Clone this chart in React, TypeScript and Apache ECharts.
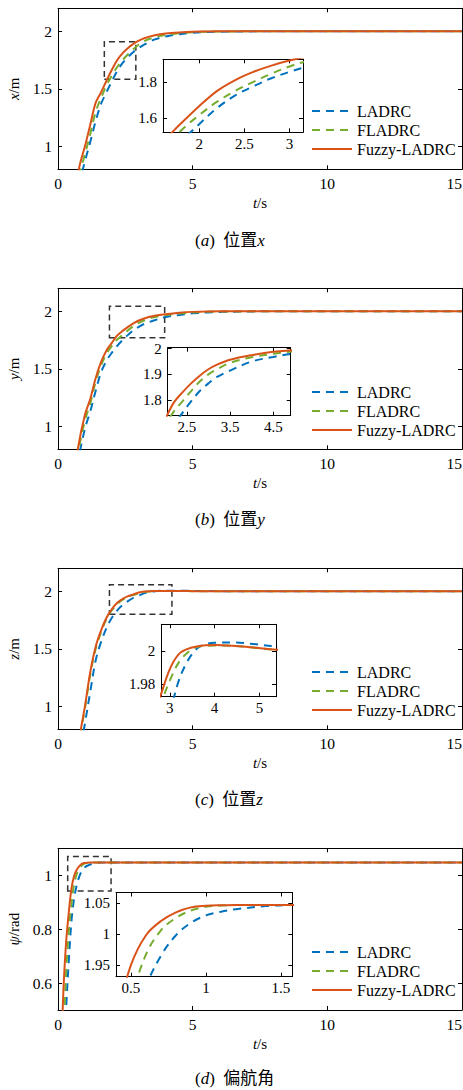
import React, { useEffect, useRef } from "react";
import * as echarts from "echarts";

const SERIF = "Liberation Serif, Times New Roman, serif";
const SERIF_CJK = "Liberation Serif, Noto Sans CJK SC, serif";

const SERIES_NAMES = ["LADRC", "FLADRC", "Fuzzy-LADRC"];
const SERIES_COLORS = ["#0072BD", "#77AC30", "#D95319"];

const MAIN_X_TICKS = [0, 5, 10, 15];

// ---- (a) position x ----
const T_X = [0.5, 0.8, 1.0, 1.2, 1.4, 1.6, 1.8, 2.0, 2.2, 2.4, 2.6, 2.8, 3.0, 3.2, 3.6, 4.0, 4.5, 5.0, 6.0, 8.0, 15];
const X_LADRC = [0.3, 0.68, 0.87, 1.04, 1.22, 1.37, 1.47, 1.565, 1.655, 1.725, 1.775, 1.82, 1.855, 1.885, 1.93, 1.955, 1.975, 1.987, 1.996, 2.0, 2.0];
const X_FLADRC = [0.38, 0.76, 0.93, 1.11, 1.3, 1.42, 1.53, 1.615, 1.69, 1.75, 1.8, 1.845, 1.885, 1.915, 1.948, 1.968, 1.983, 1.992, 1.998, 2.0, 2.0];
const X_FUZZY = [0.45, 0.83, 1.0, 1.19, 1.38, 1.47, 1.57, 1.665, 1.75, 1.81, 1.855, 1.89, 1.918, 1.94, 1.965, 1.98, 1.99, 1.996, 2.0, 2.0, 2.0];

// ---- (b) position y ----
const T_Y = [0.5, 0.75, 1.0, 1.2, 1.4, 1.6, 1.8, 2.0, 2.2, 2.4, 2.6, 2.8, 3.0, 3.2, 3.5, 4.0, 4.5, 5.0, 6.0, 8.0, 15];
const Y_LADRC = [0.3, 0.7, 0.98, 1.13, 1.31, 1.47, 1.57, 1.64, 1.7, 1.75, 1.795, 1.835, 1.865, 1.89, 1.915, 1.95, 1.968, 1.982, 1.994, 2.0, 2.0];
const Y_FLADRC = [0.35, 0.77, 1.05, 1.2, 1.39, 1.53, 1.63, 1.7, 1.755, 1.795, 1.835, 1.872, 1.9, 1.92, 1.945, 1.967, 1.98, 1.99, 1.998, 2.0, 2.0];
const Y_FUZZY = [0.4, 0.82, 1.1, 1.24, 1.42, 1.56, 1.66, 1.725, 1.79, 1.83, 1.865, 1.895, 1.92, 1.938, 1.957, 1.975, 1.988, 1.995, 2.0, 2.0, 2.0];

// ---- (c) position z ----
const T_Z = [0.6, 0.85, 1.0, 1.2, 1.4, 1.6, 1.8, 2.0, 2.2, 2.4, 2.6, 2.8, 3.0, 3.2, 3.4, 3.6, 3.8, 4.0, 4.4, 4.8, 5.4, 7, 10, 15];
const Z_LADRC = [0.3, 0.65, 0.85, 1.13, 1.4, 1.56, 1.68, 1.77, 1.835, 1.882, 1.915, 1.942, 1.962, 1.982, 1.994, 2.0012, 2.004, 2.0048, 2.005, 2.0043, 2.0026, 2.0005, 2.0, 2.0];
const Z_FLADRC = [0.38, 0.78, 0.98, 1.28, 1.5, 1.645, 1.76, 1.835, 1.89, 1.927, 1.952, 1.968, 1.982, 1.993, 1.999, 2.0022, 2.003, 2.0032, 2.003, 2.0021, 2.0006, 2.0, 2.0, 2.0];
const Z_FUZZY = [0.4, 0.8, 1.0, 1.3, 1.52, 1.66, 1.77, 1.845, 1.9, 1.935, 1.958, 1.9735, 1.989, 1.998, 2.0012, 2.0026, 2.0033, 2.0035, 2.0031, 2.0022, 2.0006, 2.0, 2.0, 2.0];

// ---- (d) yaw ----
const T_P = [0, 0.1, 0.2, 0.3, 0.4, 0.5, 0.6, 0.7, 0.8, 0.9, 1.0, 1.1, 1.2, 1.4, 1.6, 2.0, 3.0, 15];
const P_LADRC = [0, 0.05, 0.25, 0.5, 0.68, 0.83, 0.915, 0.965, 0.998, 1.018, 1.03, 1.036, 1.04, 1.045, 1.047, 1.047, 1.047, 1.047];
const P_FLADRC = [0, 0.1, 0.4, 0.633, 0.79, 0.893, 0.967, 1.006, 1.026, 1.038, 1.044, 1.046, 1.047, 1.047, 1.047, 1.047, 1.047, 1.047];
const P_FUZZY = [0, 0.3, 0.57, 0.75, 0.862, 0.95, 0.998, 1.021, 1.035, 1.043, 1.0455, 1.0465, 1.047, 1.047, 1.047, 1.047, 1.047, 1.047];

const TIMES = [T_X, T_Y, T_Z, T_P];
const VALUES = [
  [X_LADRC, X_FLADRC, X_FUZZY],
  [Y_LADRC, Y_FLADRC, Y_FUZZY],
  [Z_LADRC, Z_FLADRC, Z_FUZZY],
  [P_LADRC, P_FLADRC, P_FUZZY],
];

const MAIN_Y_RANGES = [[0.8, 2.2], [0.8, 2.2], [0.8, 2.2], [0.5, 1.1]];
const MAIN_Y_TICKS = [[1, 1.5, 2], [1, 1.5, 2], [1, 1.5, 2], [0.6, 0.8, 1]];

const INSET_X_RANGES = [[1.6, 3.15], [2.06, 4.9], [2.81, 5.37], [0.4, 1.576]];
const INSET_Y_RANGES = [[1.52, 1.925], [1.739, 2.004], [1.9723, 2.016], [0.931, 1.067]];
const INSET_X_TICKS = [[2, 2.5, 3], [2.5, 3.5, 4.5], [3, 4, 5], [0.5, 1, 1.5]];
const INSET_Y_TICKS = [[1.6, 1.8], [1.8, 1.9, 2], [1.98, 2], [0.95, 1, 1.05]];
const INSET_Y_LABELS = [["1.6", "1.8"], ["1.8", "1.9", "2"], ["1.98", "2"], ["1.95", "1", "1.05"]];

// zoom boxes: [[t1, v1], [t2, v2]]
const ZOOM_BOXES = [
  [[1.72, 1.583], [2.89, 1.91]],
  [[1.91, 1.77], [3.96, 2.043]],
  [[1.91, 1.8], [4.23, 2.058]],
  [[0.36, 0.942], [1.97, 1.07]],
];

const Y_NAMES = ["{i|x}/m", "{i|y}/m", "{i|z}/m", "{i|ψ}/rad"];
const X_NAME = "{i|t}/s";
const CAPTIONS = ["({i|a})  位置{i|x}", "({i|b})  位置{i|y}", "({i|c})  位置{i|z}", "({i|d})  偏航角"];

// layout (pixels)
const MAIN_LEFT = 58;
const MAIN_WIDTH = 404;
const LAYOUT = [
  { top: 8.3, height: 161, legendTop: 98, captionTop: 227, inset: { left: 163, top: 59.3, width: 140, height: 73 } },
  { top: 288.3, height: 161, legendTop: 379, captionTop: 506, inset: { left: 167.7, top: 347.7, width: 123, height: 68 } },
  { top: 568.3, height: 161, legendTop: 659, captionTop: 786, inset: { left: 161.3, top: 624.3, width: 114.7, height: 72.4 } },
  { top: 848.3, height: 161.7, legendTop: 939, captionTop: 1065, inset: { left: 116, top: 892.5, width: 176.3, height: 84.2 } },
];

function buildOption() {
  const grids: any[] = [];
  const xAxes: any[] = [];
  const yAxes: any[] = [];
  const series: any[] = [];

  const axisCommon = (gridIndex: number, min: number, max: number, ticks: number[], position: string, showLabel: boolean, fontSize: number, margin: number, extraLabel?: any) => ({
    type: "value",
    gridIndex,
    min,
    max,
    position,
    axisLine: { show: true, onZero: false, lineStyle: { color: "#000", width: 1 } },
    axisTick: { show: true, inside: true, length: 4, customValues: ticks, lineStyle: { color: "#000", width: 1 } },
    axisLabel: {
      show: showLabel,
      customValues: ticks,
      margin,
      color: "#000",
      fontFamily: SERIF,
      fontSize,
      ...(extraLabel || {}),
    },
    splitLine: { show: false },
  });

  const richItalic = (size: number) => ({
    i: { fontStyle: "italic", fontFamily: SERIF, fontSize: size, color: "#000" },
  });

  for (let i = 0; i < 4; i++) {
    const L = LAYOUT[i];
    const gMain = 2 * i;
    const gIn = 2 * i + 1;
    grids.push({ left: MAIN_LEFT, top: L.top, width: MAIN_WIDTH, height: L.height, outerBoundsMode: "none", containLabel: false });
    grids.push({ left: L.inset.left, top: L.inset.top, width: L.inset.width, height: L.inset.height, outerBoundsMode: "none", containLabel: false, show: true, backgroundColor: "#fff", borderWidth: 0 });

    // main axes
    xAxes.push({
      ...axisCommon(gMain, 0, 15, MAIN_X_TICKS, "bottom", true, 15.5, 6, { alignMaxLabel: "right" }),
      name: X_NAME,
      nameLocation: "middle",
      nameGap: 26,
      nameTextStyle: { fontFamily: SERIF, fontSize: 15, color: "#000", rich: richItalic(15) },
    });
    xAxes.push(axisCommon(gMain, 0, 15, MAIN_X_TICKS, "top", false, 15.5, 6));
    yAxes.push({
      ...axisCommon(gMain, MAIN_Y_RANGES[i][0], MAIN_Y_RANGES[i][1], MAIN_Y_TICKS[i], "left", true, 15.5, 6),
      name: Y_NAMES[i],
      nameLocation: "middle",
      nameRotate: 90,
      nameGap: 29,
      nameTextStyle: { fontFamily: SERIF, fontSize: 15, color: "#000", rich: richItalic(15) },
    });
    yAxes.push(axisCommon(gMain, MAIN_Y_RANGES[i][0], MAIN_Y_RANGES[i][1], MAIN_Y_TICKS[i], "right", false, 15.5, 6));

    // inset axes
    const labels = INSET_Y_LABELS[i];
    const ticks = INSET_Y_TICKS[i];
    const fmt = (v: number) => {
      for (let k = 0; k < ticks.length; k++) if (Math.abs(ticks[k] - v) < 1e-9) return labels[k];
      return String(v);
    };
    xAxes.push(axisCommon(gIn, INSET_X_RANGES[i][0], INSET_X_RANGES[i][1], INSET_X_TICKS[i], "bottom", true, 15, 4));
    xAxes.push(axisCommon(gIn, INSET_X_RANGES[i][0], INSET_X_RANGES[i][1], INSET_X_TICKS[i], "top", false, 15, 4));
    yAxes.push(axisCommon(gIn, INSET_Y_RANGES[i][0], INSET_Y_RANGES[i][1], ticks, "left", true, 15, 6, { formatter: fmt }));
    yAxes.push(axisCommon(gIn, INSET_Y_RANGES[i][0], INSET_Y_RANGES[i][1], ticks, "right", false, 15, 6));

    const T = TIMES[i];
    for (let s = 0; s < 3; s++) {
      const V = VALUES[i][s];
      const data = T.map((t, k) => [t, V[k]]);
      const lineStyle = { color: SERIES_COLORS[s], width: 2, type: s < 2 ? [8, 6] : "solid" };
      const mainSeries: any = {
        type: "line",
        name: SERIES_NAMES[s],
        xAxisIndex: 2 * gMain,
        yAxisIndex: 2 * gMain,
        data,
        smooth: 0.35,
        symbol: "none",
        showSymbol: false,
        clip: true,
        color: SERIES_COLORS[s],
        lineStyle,
        z: 3 + s,
      };
      if (s === 0) {
        const b = ZOOM_BOXES[i];
        mainSeries.markArea = {
          silent: true,
          itemStyle: { color: "rgba(0,0,0,0)", borderColor: "#333", borderWidth: 1.5, borderType: [6, 4] },
          data: [[{ coord: b[0] }, { coord: b[1] }]],
        };
      }
      series.push(mainSeries);
      series.push({
        type: "line",
        name: SERIES_NAMES[s],
        xAxisIndex: 2 * gIn,
        yAxisIndex: 2 * gIn,
        data,
        smooth: 0.35,
        symbol: "none",
        showSymbol: false,
        clip: true,
        color: SERIES_COLORS[s],
        lineStyle,
        z: 3 + s,
      });
    }
  }

  const legends = LAYOUT.map((L) => ({
    orient: "vertical",
    left: 306,
    top: L.legendTop,
    itemWidth: 40,
    itemHeight: 14,
    itemGap: 3,
    selectedMode: false,
    data: SERIES_NAMES,
    itemStyle: { opacity: 0 },
    textStyle: { fontFamily: SERIF, fontSize: 16, color: "#000" },
  }));

  const titles = LAYOUT.map((L, i) => ({
    text: CAPTIONS[i],
    left: 190,
    top: L.captionTop,
    textStyle: {
      fontFamily: SERIF_CJK,
      fontSize: 17,
      fontWeight: "normal",
      color: "#000",
      rich: { i: { fontStyle: "italic", fontFamily: SERIF, fontSize: 17, color: "#000" } },
    },
  }));

  return {
    animation: false,
    backgroundColor: "#fff",
    title: titles,
    legend: legends,
    grid: grids,
    xAxis: xAxes,
    yAxis: yAxes,
    series,
  };
}

export default function App() {
  const ref = useRef<HTMLDivElement>(null);
  useEffect(() => {
    document.body.style.margin = "0";
    document.body.style.overflow = "hidden";
    if (!ref.current) return;
    const chart = echarts.init(ref.current, undefined, { renderer: "svg" });
    chart.setOption(buildOption() as any);
    return () => chart.dispose();
  }, []);
  return <div ref={ref} style={{ width: 463, height: 1090 }} />;
}
